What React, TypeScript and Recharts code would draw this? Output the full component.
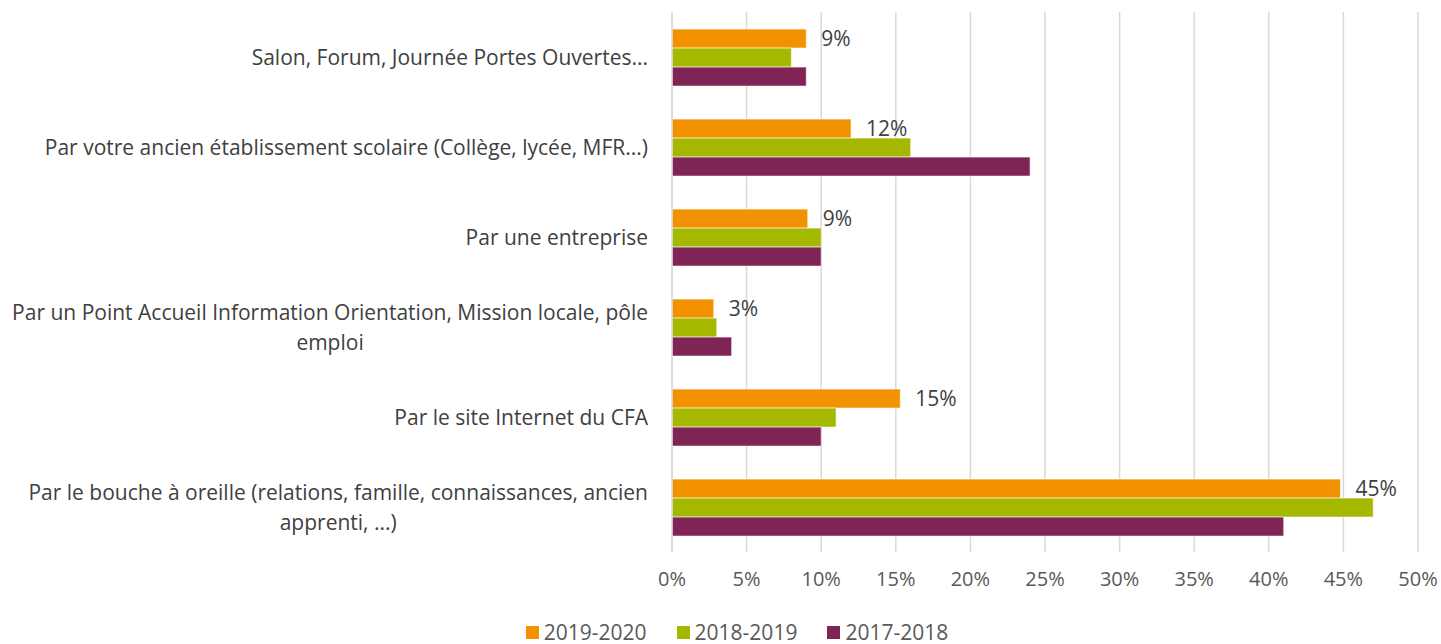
import React from 'react';
import { BarChart, Bar, XAxis, YAxis, CartesianGrid, Legend, LabelList } from 'recharts';

const categories = [
  'Salon, Forum, Journée Portes Ouvertes...',
  'Par votre ancien établissement scolaire (Collège, lycée, MFR...)',
  'Par une entreprise',
  'Par un Point Accueil Information Orientation, Mission locale, pôle\nemploi',
  'Par le site Internet du CFA',
  'Par le bouche à oreille (relations, famille, connaissances, ancien\napprenti, ...)',
];

const s2019_2020 = [9, 12, 9.1, 2.8, 15.3, 44.8];
const s2018_2019 = [8, 16, 10, 3, 11, 47];
const s2017_2018 = [9, 24, 10, 4, 10, 41];

const xTicks = [0, 5, 10, 15, 20, 25, 30, 35, 40, 45, 50];

const seriesNames = ['2019-2020', '2018-2019', '2017-2018'];
const seriesColors = ['#F39200', '#A5B800', '#7F2454'];

const data = categories.map((name, i) => ({
  name,
  a: s2019_2020[i],
  b: s2018_2019[i],
  c: s2017_2018[i],
}));

const FONT = '"Open Sans", sans-serif';
const TEXT = '#404040';
const CAT_SIZE = 21;

let ctx: CanvasRenderingContext2D | null = null;
const measure = (s: string) => {
  if (!ctx) ctx = document.createElement('canvas').getContext('2d');
  if (!ctx) return s.length * CAT_SIZE * 0.5;
  ctx.font = `${CAT_SIZE}px "Open Sans"`;
  return ctx.measureText(s).width;
};

// category labels: right aligned block, lines centred inside it
const CategoryTick = ({ x, y, payload }: any) => {
  const lines: string[] = String(payload.value).split('\n');
  const widths = lines.map(measure);
  const maxW = Math.max(...widths);
  const right = x - 16;
  const cx = right - maxW / 2;
  const lh = 30;
  const y0 = y - ((lines.length - 1) * lh) / 2;
  return (
    <g>
      {lines.map((l, i) => (
        <text key={i} x={cx} y={y0 + i * lh} textAnchor="middle" dominantBaseline="central"
          fontFamily={FONT} fontSize={CAT_SIZE} fill={TEXT}>
          {l}
        </text>
      ))}
    </g>
  );
};

const renderLegend = () => (
  <div style={{ display: 'flex', justifyContent: 'center', alignItems: 'center', gap: 30, height: 42, paddingTop: 18, paddingLeft: 56, boxSizing: 'border-box', fontFamily: FONT, fontSize: 21, color: '#595959' }}>
    {seriesNames.map((n, i) => (
      <div key={n} style={{ display: 'flex', alignItems: 'center' }}>
        <span style={{ display: 'inline-block', width: 13, height: 13, background: seriesColors[i], marginRight: 5 }} />
        <span>{n}</span>
      </div>
    ))}
  </div>
);

export default function App() {
  return (
    <div style={{ position: 'absolute', left: 0, top: 0, background: '#fff' }}>
      <BarChart
        width={1441}
        height={644}
        data={data}
        layout="vertical"
        margin={{ top: 12, right: 23, left: 0, bottom: 0 }}
        barCategoryGap="19%"
        barGap={0}
      >
        <CartesianGrid horizontal={false} stroke="#d9d9d9" strokeWidth={1.5} />
        <XAxis
          type="number"
          domain={[0, 50]}
          ticks={xTicks}
          tickFormatter={(v: number) => `${v}%`}
          axisLine={false}
          tickLine={false}
          tickMargin={14}
          height={50}
          tick={{ fontFamily: FONT, fontSize: 20, fill: '#595959' }}
        />
        <YAxis
          type="category"
          dataKey="name"
          width={672}
          axisLine={{ stroke: '#d9d9d9', strokeWidth: 1.5 }}
          tickLine={false}
          tick={<CategoryTick />}
          interval={0}
        />
        <Legend verticalAlign="bottom" height={42} content={renderLegend} />
        <Bar dataKey="a" name={seriesNames[0]} fill={seriesColors[0]} stroke="rgba(255,255,255,0.6)" strokeWidth={1} isAnimationActive={false}>
          <LabelList dataKey="a" position="right" offset={15} formatter={(v: any) => `${Math.round(Number(v))}%`}
            style={{ fontFamily: FONT, fontSize: 21, fill: TEXT }} />
        </Bar>
        <Bar dataKey="b" name={seriesNames[1]} fill={seriesColors[1]} stroke="rgba(255,255,255,0.6)" strokeWidth={1} isAnimationActive={false} />
        <Bar dataKey="c" name={seriesNames[2]} fill={seriesColors[2]} stroke="rgba(255,255,255,0.6)" strokeWidth={1} isAnimationActive={false} />
      </BarChart>
    </div>
  );
}
